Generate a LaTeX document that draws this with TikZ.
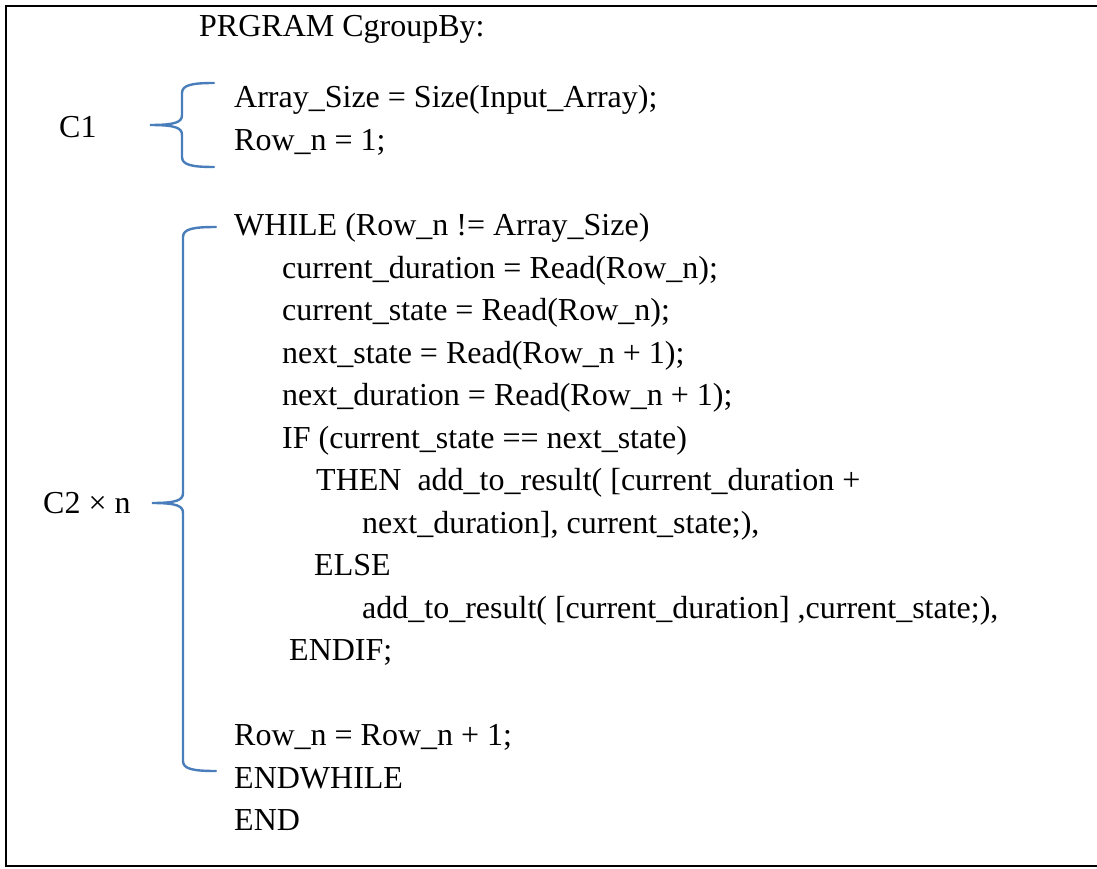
\documentclass[tikz,border=0pt]{standalone}
\usepackage{fontspec}
\setmainfont{Liberation Serif}
\definecolor{bracecol}{RGB}{74,126,187}
\tikzset{
  code/.style={anchor=base west,inner sep=0pt,font=\fontsize{32}{38}\selectfont},
  bracepath/.style={draw=bracecol,line width=2.4pt,line cap=round},
  frame/.style={draw=black,line width=2.8pt}
}
\begin{document}
\begin{tikzpicture}[x=1pt,y=-1pt]
\useasboundingbox (0,0) rectangle (1097,869);
% frame (right edge cut off)
\draw[frame] (1097,6) -- (6,6) -- (6,866) -- (1097,866);
% text
\node[code] (title) at (199,37) {PRGRAM CgroupBy:};
\node[code] (l1) at (234,108) {Array\_Size = Size(Input\_Array);};
\node[code] (l2) at (234,150.5) {Row\_n = 1;};
\node[code] (l3) at (234,235.5) {WHILE (Row\_n != Array\_Size)};
\node[code] (l4) at (282,278) {current\_duration = Read(Row\_n);};
\node[code] (l5) at (282,320.5) {current\_state = Read(Row\_n);};
\node[code] (l6) at (282,363) {next\_state = Read(Row\_n + 1);};
\node[code] (l7) at (282,405.5) {next\_duration = Read(Row\_n + 1);};
\node[code] (l8) at (282,448) {IF (current\_state == next\_state)};
\node[code] (l9) at (316,490.5) {THEN\hspace{0.5em}add\_to\_result( [current\_duration +};
\node[code] (l10) at (362,533) {next\_duration], current\_state;),};
\node[code] (l11) at (314,575.5) {ELSE};
\node[code] (l12) at (362,618) {add\_to\_result( [current\_duration] ,current\_state;),};
\node[code] (l13) at (289,660.5) {ENDIF;};
\node[code] (l14) at (234,745.5) {Row\_n = Row\_n + 1;};
\node[code] (l15) at (234,788) {ENDWHILE};
\node[code] (l16) at (234,830.5) {END};
\node[code] (c1) at (59,138) {C1};
\node[code] (c2) at (43,513) {C2 × n};
% brace 1
\coordinate (b1tip) at (150,125);
\coordinate (b1top) at (214,83);
\coordinate (b1bot) at (214,167);
\draw[bracepath] (b1top) .. controls (192,83) and (182,85) .. (182,93)
  -- (182,115) .. controls (182,122) and (176,125) .. (b1tip)
  .. controls (176,125) and (182,128) .. (182,135)
  -- (182,157) .. controls (182,165) and (192,167) .. (b1bot);
% brace 2
\coordinate (b2tip) at (152,503);
\coordinate (b2top) at (216,227);
\coordinate (b2bot) at (216,771);
\draw[bracepath] (b2top) .. controls (193,227) and (183,229) .. (183,237)
  -- (183,493) .. controls (183,500) and (177,503) .. (b2tip)
  .. controls (177,503) and (183,506) .. (183,513)
  -- (183,761) .. controls (183,769) and (193,771) .. (b2bot);
\end{tikzpicture}
\end{document}
